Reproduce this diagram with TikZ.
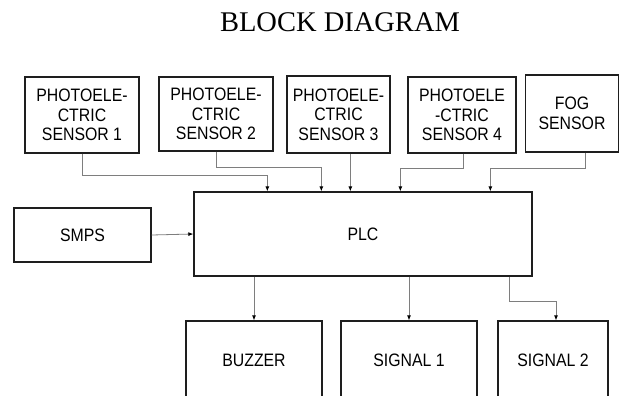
\documentclass[tikz,border=0pt]{standalone}
\usepackage{fontspec}
\newfontfamily\labfont{Liberation Sans}[FakeStretch=0.88]
\newfontfamily\ttlfont{Liberation Serif}
\usetikzlibrary{arrows.meta,calc}
\definecolor{wire}{HTML}{7E7E7E}
\definecolor{edge}{HTML}{1E1E1E}
\tikzset{
  blk/.style={draw=edge, line width=1.3pt, inner sep=0pt, align=center,
    font=\labfont\fontsize{18}{19.5}\selectfont},
  wirearr/.style={draw=wire, line width=0.8pt,
    -{Latex[length=5pt,width=4pt,color=black]}}
}
\begin{document}
\begin{tikzpicture}[x=1pt,y=-1pt]
\clip (0,0) rectangle (621,396);
\fill[white] (0,0) rectangle (621,396);
\node[anchor=base, font=\ttlfont\fontsize{28.5}{30}\selectfont] (title) at (340,32) {BLOCK DIAGRAM};
% sensors
\node[blk, minimum width=114, minimum height=76] (s1) at (82,115) {PHOTOELE-\\CTRIC\\SENSOR 1};
\node[blk, minimum width=114, minimum height=74] (s2) at (216,114) {PHOTOELE-\\CTRIC\\SENSOR 2};
\node[blk, minimum width=103, minimum height=77] (s3) at (338.5,114.5) {PHOTOELE-\\CTRIC\\SENSOR 3};
\node[blk, minimum width=108, minimum height=76] (s4) at (462,115) {PHOTOELE\\-CTRIC\\SENSOR 4};
\node[blk, minimum width=93, minimum height=77] (fog) at (572,113.5) {FOG\\SENSOR};
% middle
\node[blk, minimum width=137, minimum height=54] (smps) at (82.5,235) {SMPS};
\node[blk, minimum width=338, minimum height=84] (plc) at (363,234) {PLC};
% outputs
\node[blk, minimum width=136, minimum height=78] (buz) at (254,360) {BUZZER};
\node[blk, minimum width=136, minimum height=78] (sig1) at (409,360) {SIGNAL 1};
\node[blk, minimum width=110, minimum height=78] (sig2) at (553,360) {SIGNAL 2};
% input coordinates on PLC top
\coordinate (i1) at ($(plc.north west)+(74,0)$);
\coordinate (i2) at ($(plc.north west)+(128,0)$);
\coordinate (i3) at ($(plc.north west)+(157,0)$);
\coordinate (i4) at ($(plc.north west)+(207,0)$);
\coordinate (i5) at ($(plc.north west)+(297,0)$);
% connectors
\draw[wirearr] (s1.south) -- ++(0,22) -| (i1);
\draw[wirearr] (s2.south) -- ++(0,16) -| (i2);
\draw[wirearr] (s3.south -| i3) -- (i3);
\draw[wirearr] ($(s4.south)+(1,0)$) -- ++(0,15) -| (i4);
\draw[wirearr] ($(fog.south)+(13,0)$) -- ++(0,16) -| (i5);
\draw[wirearr] (smps.east) -- (plc.west);
\draw[wirearr] (plc.south -| buz.north) -- (buz.north);
\draw[wirearr] (plc.south -| sig1.north) -- (sig1.north);
\draw[wirearr] ($(plc.south east)+(-23,0)$) -- ++(0,25) -| ($(sig2.north)+(3,0)$);
\end{tikzpicture}
\end{document}
